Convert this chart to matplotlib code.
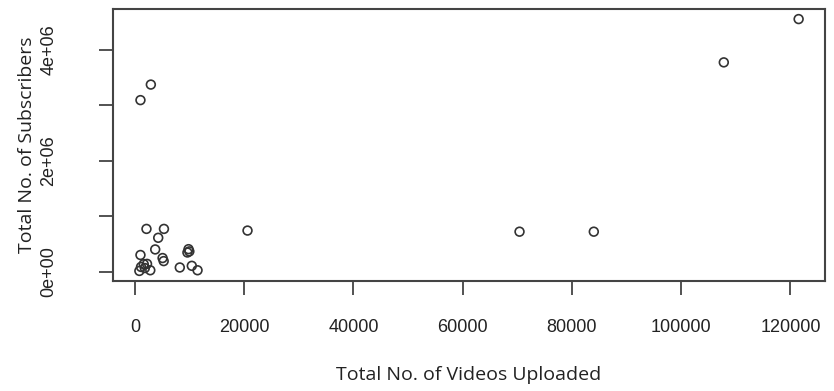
import matplotlib
matplotlib.use("Agg")
import matplotlib.pyplot as plt
from matplotlib.font_manager import FontProperties
from matplotlib.ticker import FixedLocator, FuncFormatter

# Videos uploaded vs subscribers per channel
videos = [121500, 107800, 84000, 70400, 20600,
          2900, 1000,
          2100, 5300, 4250, 3700, 1000,
          1600, 800, 2800, 2200, 1100, 1800,
          5050, 5250,
          9800, 9600, 9950, 8200, 10400, 11450]
subscribers = [4550000, 3770000, 720000, 720000, 740000,
               3370000, 3090000,
               770000, 770000, 610000, 400000, 300000,
               135000, 13000, 25000, 140000, 85000, 65000,
               245000, 190000,
               405000, 345000, 365000, 75000, 105000, 25000]

x_ticks = [0, 20000, 40000, 60000, 80000, 100000, 120000]
y_ticks = [0, 1000000, 2000000, 3000000, 4000000]
y_labels = {0: "0e+00", 2000000: "2e+06", 4000000: "4e+06"}

fig = plt.figure(figsize=(8.34, 3.91), dpi=100)
ax = fig.add_axes([113 / 834, 1 - 281 / 391, 712 / 834, 272 / 391])

ax.scatter(videos, subscribers, s=40, facecolors="none",
           edgecolors="#333333", linewidths=1.2)

# R-style 4% padding around the data range
xmin, xmax = min(videos), max(videos)
ymin, ymax = min(subscribers), max(subscribers)
xp = 0.04 * (xmax - xmin)
yp = 0.04 * (ymax - ymin)
ax.set_xlim(xmin - xp, xmax + xp)
ax.set_ylim(ymin - yp, ymax + yp)

ax.xaxis.set_major_locator(FixedLocator(x_ticks))
ax.yaxis.set_major_locator(FixedLocator(y_ticks))
ax.xaxis.set_major_formatter(FuncFormatter(lambda v, p: f"{int(v)}"))
ax.yaxis.set_major_formatter(FuncFormatter(lambda v, p: y_labels.get(int(v), "")))

tick_fp = FontProperties(family=["Liberation Sans", "DejaVu Sans"], size=13)
for lab in ax.get_xticklabels():
    lab.set_fontproperties(tick_fp)
    lab.set_color("#222222")
for lab in ax.get_yticklabels():
    lab.set_fontproperties(tick_fp)
    lab.set_rotation(90)
    lab.set_va("center")
    lab.set_color("#222222")

ax.tick_params(axis="both", direction="out", length=10, width=1.3,
               color="#444444")
ax.tick_params(axis="x", pad=17)
ax.tick_params(axis="y", pad=30)

for sp in ax.spines.values():
    sp.set_linewidth(1.5)
    sp.set_color("#444444")

title_font = dict(family=["Open Sans", "DejaVu Sans"], size=14, color="#222222")
ax.set_xlabel("Total No. of Videos Uploaded", labelpad=22, **title_font)
ax.set_ylabel("Total No. of Subscribers", labelpad=3, **title_font)

fig.savefig("out.png", dpi=100)
